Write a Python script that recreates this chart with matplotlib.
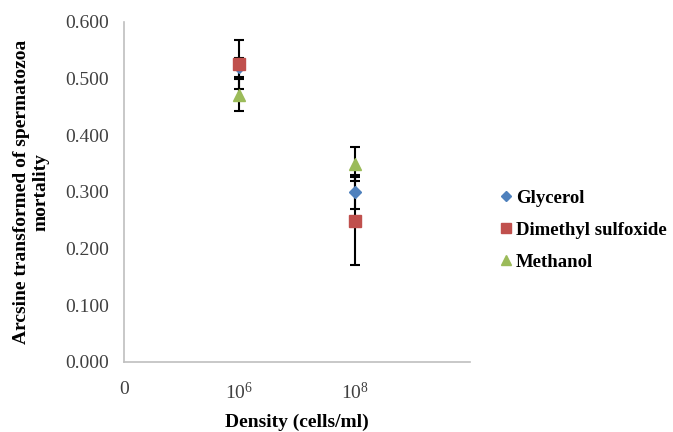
import matplotlib
matplotlib.use("Agg")
import matplotlib.pyplot as plt
from matplotlib.lines import Line2D

x_labels = ["0", "10$^6$", "10$^8$"]
x_pos = [1, 2]
series = ["Glycerol", "Dimethyl sulfoxide", "Methanol"]
glycerol = [0.520, 0.300]
glycerol_err = [0.017, 0.030]
dmso = [0.525, 0.249]
dmso_err = [0.043, 0.078]
methanol = [0.471, 0.349]
methanol_err = [0.028, 0.030]

colors = ["#4F81BD", "#C0504D", "#9BBB59"]
markers = ["D", "s", "^"]
sizes = [6, 9, 8]

plt.rcParams["font.family"] = ["Liberation Serif", "DejaVu Serif"]
plt.rcParams["mathtext.fontset"] = "custom"
plt.rcParams["mathtext.rm"] = "Liberation Serif"
plt.rcParams["mathtext.it"] = "Liberation Serif:italic"
plt.rcParams["mathtext.bf"] = "Liberation Serif:bold"
fig = plt.figure(figsize=(6.73, 4.32), dpi=100)
ax = fig.add_axes([124/673, 70/432, 346/673, 340/432])

vals = [glycerol, dmso, methanol]
errs = [glycerol_err, dmso_err, methanol_err]
handles = []
for name, v, e, c, m, s in zip(series, vals, errs, colors, markers, sizes):
    ax.errorbar(x_pos, v, yerr=e, fmt=m, color=c, ms=s, ecolor="black",
                elinewidth=1.5, capsize=3.5, capthick=1.5, zorder=3)
    handles.append(Line2D([], [], marker=m, color=c, linestyle="none",
                          ms=s * 0.85, label=name))

ax.set_xlim(0, 3)
ax.set_ylim(0, 0.6)
ax.set_xticks([0, 1, 2])
ax.set_xticklabels(x_labels)
ax.set_yticks([0, 0.1, 0.2, 0.3, 0.4, 0.5, 0.6])
ax.set_yticklabels([f"{t:.3f}" for t in [0, 0.1, 0.2, 0.3, 0.4, 0.5, 0.6]])
ax.tick_params(length=0, labelsize=14, colors="#404040", pad=11)
ax.tick_params(axis="x", pad=14)
for sp in ["top", "right"]:
    ax.spines[sp].set_visible(False)
for sp in ["left", "bottom"]:
    ax.spines[sp].set_color("#BFBFBF")
    ax.spines[sp].set_linewidth(1.2)

ax.set_xlabel("Density (cells/ml)", fontsize=14, fontweight="bold", labelpad=8)
ax.set_ylabel("Arcsine transformed of spermatozoa\nmortality", fontsize=14,
              fontweight="bold", labelpad=11)

fig.legend(handles=handles, loc="upper left", bbox_to_anchor=(489/673, 1 - 182/432),
           frameon=False, prop={"weight": "bold", "size": 13.5}, handletextpad=0.05,
           handlelength=1.0, labelspacing=0.8, borderaxespad=0)

fig.savefig("out.png", dpi=100)
